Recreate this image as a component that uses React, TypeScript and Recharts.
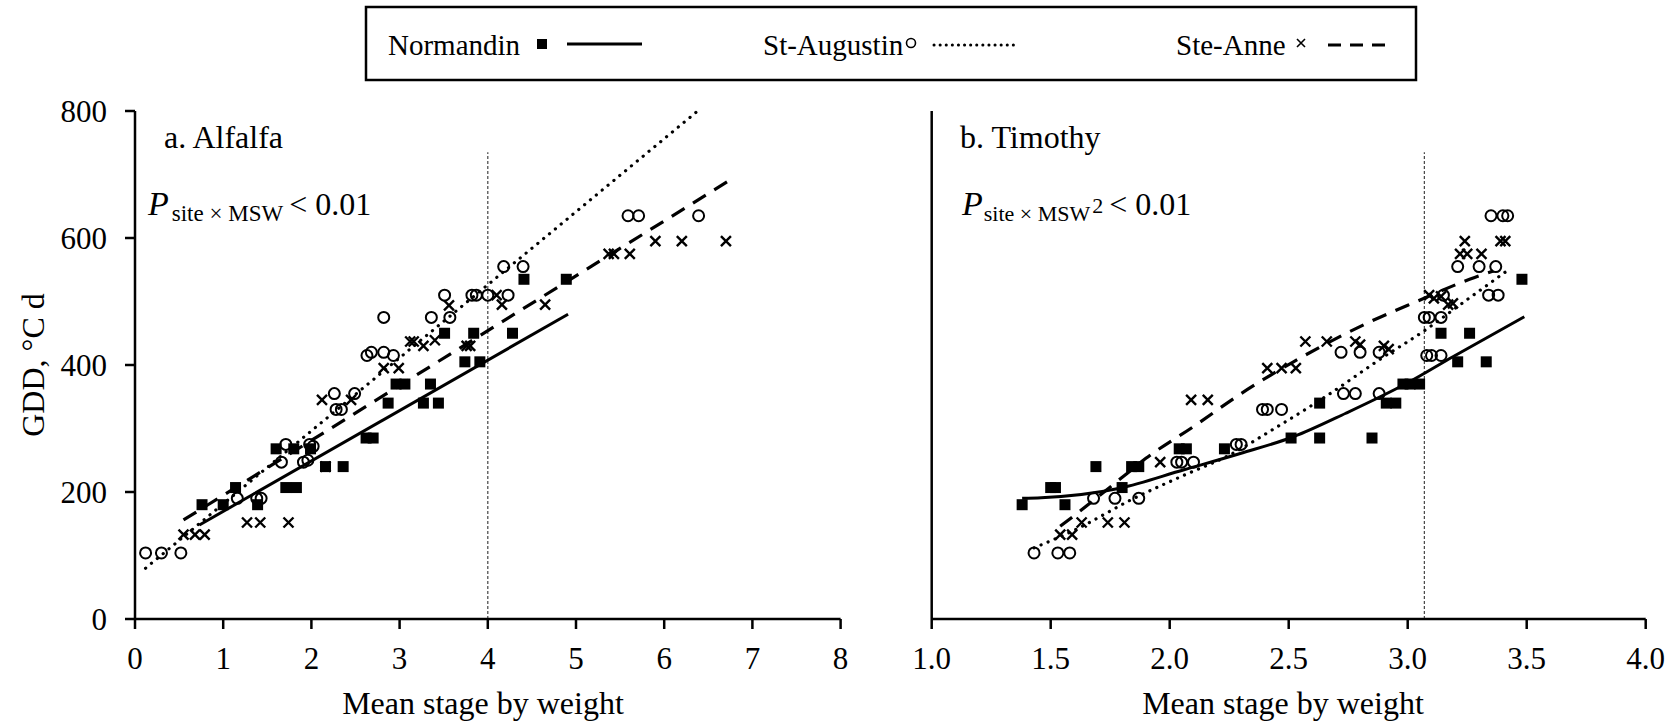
import React from "react";
import { ComposedChart, Scatter, Line, XAxis, YAxis } from "recharts";

type Pt = [number, number];

const FONT = "'Liberation Serif', 'Times New Roman', serif";

// shared y axis (GDD, °C d)
const GDD_TICKS = [0, 200, 400, 600, 800];

// a. Alfalfa: [mean stage by weight, GDD]
const ALF_X_TICKS = [0, 1, 2, 3, 4, 5, 6, 7, 8];
const ALF_NORMANDIN: Pt[] = [
  [0.76, 180], [1.0, 180], [1.14, 207], [1.39, 180], [1.6, 268], [1.8, 268], [1.71, 207],
  [1.83, 207], [1.99, 268], [2.16, 240], [2.36, 240], [2.62, 285], [2.7, 285], [2.87, 340],
  [2.96, 370], [3.06, 370], [3.27, 340], [3.44, 340], [3.35, 370], [3.51, 450], [3.74, 405],
  [3.84, 450], [3.91, 405], [4.28, 450], [4.41, 535], [4.89, 535],
];
const ALF_STAUGUSTIN: Pt[] = [
  [0.12, 104], [0.3, 104], [0.52, 104], [1.16, 190], [1.38, 190], [1.43, 190], [1.66, 247],
  [1.71, 275], [1.91, 247], [1.96, 250], [1.98, 275], [2.02, 272], [2.26, 355], [2.28, 330],
  [2.34, 330], [2.49, 355], [2.63, 415], [2.68, 420], [2.82, 420], [2.93, 415], [2.82, 475],
  [3.36, 475], [3.57, 475], [3.51, 510], [3.82, 510], [3.87, 510], [4.0, 510], [4.23, 510],
  [4.18, 555], [4.4, 555], [5.59, 635], [5.71, 635], [6.39, 635],
];
const ALF_STEANNE: Pt[] = [
  [0.55, 133], [0.68, 133], [0.79, 133], [1.27, 152], [1.42, 152], [1.74, 152], [2.16, 240],
  [2.12, 345], [2.45, 345], [2.82, 395], [2.99, 395], [3.12, 437], [3.16, 437], [3.27, 430],
  [3.4, 439], [3.56, 494], [3.76, 430], [3.8, 430], [4.1, 510], [4.16, 495], [4.65, 495],
  [5.37, 575], [5.43, 575], [5.61, 575], [5.9, 595], [6.2, 595], [6.7, 595],
];
// fitted lines, read at their end points
const ALF_FIT_NORMANDIN: Pt[] = [[0.73, 148], [4.91, 480]];
const ALF_FIT_STAUGUSTIN: Pt[] = [[0.12, 80], [6.38, 800]];
const ALF_FIT_STEANNE: Pt[] = [[0.55, 156], [6.72, 689]];
const ALF_STAGE_LIMIT: Pt[] = [[4, 0], [4, 735]];

// b. Timothy
const TIM_X_TICKS = [1, 1.5, 2, 2.5, 3, 3.5, 4];
const TIM_NORMANDIN: Pt[] = [
  [1.38, 180], [1.5, 207], [1.52, 207], [1.56, 180], [1.69, 240], [1.8, 207], [1.84, 240],
  [1.87, 240], [2.04, 268], [2.07, 268], [2.23, 268], [2.51, 285], [2.63, 285], [2.85, 285],
  [2.63, 340], [2.91, 340], [2.95, 340], [2.98, 370], [3.01, 370], [3.05, 370], [3.14, 450],
  [3.26, 450], [3.21, 405], [3.33, 405], [3.48, 535],
];
const TIM_STAUGUSTIN: Pt[] = [
  [1.43, 104], [1.53, 104], [1.58, 104], [1.68, 190], [1.77, 190], [1.87, 190], [2.03, 247],
  [2.05, 247], [2.1, 247], [2.28, 275], [2.3, 275], [2.39, 330], [2.41, 330], [2.47, 330],
  [2.73, 355], [2.78, 355], [2.88, 355], [2.72, 420], [2.8, 420], [2.88, 420], [3.07, 475],
  [3.09, 475], [3.14, 475], [3.08, 415], [3.1, 415], [3.14, 415], [3.15, 510], [3.21, 555],
  [3.3, 555], [3.37, 555], [3.34, 510], [3.38, 510], [3.35, 635], [3.4, 635], [3.42, 635],
];
const TIM_STEANNE: Pt[] = [
  [1.54, 133], [1.59, 133], [1.63, 152], [1.74, 152], [1.81, 152], [1.96, 247], [2.09, 345],
  [2.16, 345], [2.41, 395], [2.47, 395], [2.53, 395], [2.57, 437], [2.66, 437], [2.78, 437],
  [2.8, 432], [2.9, 430], [2.92, 425], [3.09, 510], [3.11, 505], [3.14, 508], [3.17, 495],
  [3.19, 497], [3.22, 575], [3.25, 575], [3.31, 575], [3.24, 595], [3.39, 595], [3.41, 595],
];
const TIM_FIT_NORMANDIN: Pt[] = [
  [1.38, 190], [1.46, 191], [1.79, 206], [2.06, 235], [2.3, 261], [2.52, 287], [2.74, 324],
  [3.0, 372], [3.19, 413], [3.49, 476],
];
const TIM_FIT_STAUGUSTIN: Pt[] = [
  [1.43, 112], [1.6, 140], [1.85, 190], [2.07, 228], [2.24, 256], [2.44, 300], [2.67, 354],
  [2.88, 408], [3.07, 454], [3.25, 503], [3.42, 549],
];
const TIM_FIT_STEANNE: Pt[] = [
  [1.54, 146], [1.62, 169], [1.81, 226], [1.9, 253], [2.1, 303], [2.3, 355], [2.52, 405],
  [2.83, 466], [3.05, 502], [3.26, 535], [3.36, 548],
];
const TIM_STAGE_LIMIT: Pt[] = [[3.07, 0], [3.07, 735]];

const rows = (pts: Pt[]) => pts.map(([x, y]) => ({ x, y }));

const Square = (p: any) => <rect x={p.cx - 5.5} y={p.cy - 5.5} width={11} height={11} fill="#000" />;
const Ring = (p: any) => <circle cx={p.cx} cy={p.cy} r={5.5} fill="none" stroke="#000" strokeWidth={2} />;
const Cross = (p: any) => (
  <path
    d={`M${p.cx - 5},${p.cy - 5}L${p.cx + 5},${p.cy + 5}M${p.cx - 5},${p.cy + 5}L${p.cx + 5},${p.cy - 5}`}
    stroke="#000"
    strokeWidth={2.4}
  />
);

const AXIS_LINE = { stroke: "#000", strokeWidth: 2.5 };
const TICK_LINE = { stroke: "#000", strokeWidth: 2.5 };
const TICK_STYLE = { fill: "#000", fontSize: 31, fontFamily: FONT };

interface PanelProps {
  left: number;
  width: number;
  yAxisWidth: number;
  marginRight: number;
  xDomain: [number, number];
  xTicks: number[];
  showYLabels: boolean;
  decimals: number;
  curve: "linear" | "monotone";
  normandin: Pt[];
  staugustin: Pt[];
  steanne: Pt[];
  fitN: Pt[];
  fitA: Pt[];
  fitS: Pt[];
  limit: Pt[];
}

const Panel = (p: PanelProps) => (
  <div style={{ position: "absolute", left: p.left, top: 0 }}>
    <ComposedChart width={p.width} height={725} margin={{ top: 111, right: p.marginRight, bottom: 0, left: 0 }}>
      <XAxis
        type="number"
        dataKey="x"
        domain={p.xDomain}
        ticks={p.xTicks}
        height={106}
        axisLine={AXIS_LINE}
        tickLine={TICK_LINE}
        tickSize={10}
        tickMargin={18}
        tick={TICK_STYLE}
        tickFormatter={(v: number) => v.toFixed(p.decimals)}
        interval={0}
      />
      <YAxis
        type="number"
        dataKey="y"
        domain={[0, 800]}
        ticks={GDD_TICKS}
        width={p.yAxisWidth}
        axisLine={AXIS_LINE}
        tickLine={TICK_LINE}
        tickSize={10}
        tickMargin={18}
        tick={p.showYLabels ? TICK_STYLE : false}
        interval={0}
      />
      <Line data={rows(p.limit)} dataKey="y" stroke="#444" strokeWidth={1.2} strokeDasharray="3 2" dot={false} activeDot={false} isAnimationActive={false} />
      <Line data={rows(p.fitN)} dataKey="y" type={p.curve} stroke="#000" strokeWidth={3} dot={false} activeDot={false} isAnimationActive={false} />
      <Line data={rows(p.fitA)} dataKey="y" type={p.curve} stroke="#000" strokeWidth={3.2} strokeDasharray="0.1 7.5" strokeLinecap="round" dot={false} activeDot={false} isAnimationActive={false} />
      <Line data={rows(p.fitS)} dataKey="y" type={p.curve} stroke="#000" strokeWidth={3.2} strokeDasharray="15 10" dot={false} activeDot={false} isAnimationActive={false} />
      <Scatter data={rows(p.normandin)} shape={Square} isAnimationActive={false} />
      <Scatter data={rows(p.staugustin)} shape={Ring} isAnimationActive={false} />
      <Scatter data={rows(p.steanne)} shape={Cross} isAnimationActive={false} />
    </ComposedChart>
  </div>
);

const Overlay = () => (
  <svg width={1679} height={725} style={{ position: "absolute", left: 0, top: 0, pointerEvents: "none" }} fontFamily={FONT} fill="#000">
    {/* legend */}
    <rect x={366} y={7} width={1050} height={73} fill="none" stroke="#000" strokeWidth={2.5} />
    <text x={388} y={55} fontSize={29}>Normandin</text>
    <rect x={537} y={39} width={10} height={10} fill="#000" />
    <line x1={567} y1={44} x2={642} y2={44} stroke="#000" strokeWidth={3} />
    <text x={763} y={55} fontSize={29}>St-Augustin</text>
    <circle cx={911} cy={43} r={4.5} fill="none" stroke="#000" strokeWidth={1.6} />
    <line x1={934} y1={45} x2={1017} y2={45} stroke="#000" strokeWidth={3} strokeDasharray="0.1 6" strokeLinecap="round" />
    <text x={1176} y={55} fontSize={29}>Ste-Anne</text>
    <path d="M1297,39L1305,47M1297,47L1305,39" stroke="#000" strokeWidth={1.6} />
    <line x1={1328} y1={45} x2={1389} y2={45} stroke="#000" strokeWidth={3} strokeDasharray="13 9" />

    {/* panel titles */}
    <text x={164} y={148} fontSize={32}>a. Alfalfa</text>
    <text x={148} y={215} fontSize={32}>
      <tspan fontStyle="italic" fontSize={34}>P</tspan>
      <tspan fontSize={23} dx={3} dy={6}>site × MSW</tspan>
      <tspan dx={6} dy={-6}>&lt; 0.01</tspan>
    </text>
    <text x={960} y={148} fontSize={32}>b. Timothy</text>
    <text x={962} y={215} fontSize={32}>
      <tspan fontStyle="italic" fontSize={34}>P</tspan>
      <tspan fontSize={22} dx={1} dy={6}>site × MSW</tspan>
      <tspan fontSize={22} dx={2} dy={-8}>2</tspan>
      <tspan dx={6} dy={2}>&lt; 0.01</tspan>
    </text>

    {/* axis titles */}
    <text x={44} y={365} fontSize={32} textAnchor="middle" transform="rotate(-90 44 365)">GDD, °C d</text>
    <text x={483} y={714} fontSize={32} textAnchor="middle">Mean stage by weight</text>
    <text x={1283} y={714} fontSize={32} textAnchor="middle">Mean stage by weight</text>
  </svg>
);

export default function App() {
  return (
    <div style={{ position: "absolute", left: 0, top: 0, width: 1679, height: 725, background: "#fff", fontFamily: FONT }}>
      <Panel
        left={0}
        width={880}
        yAxisWidth={135}
        marginRight={39.4}
        xDomain={[0, 8]}
        xTicks={ALF_X_TICKS}
        showYLabels
        decimals={0}
        curve="linear"
        normandin={ALF_NORMANDIN}
        staugustin={ALF_STAUGUSTIN}
        steanne={ALF_STEANNE}
        fitN={ALF_FIT_NORMANDIN}
        fitA={ALF_FIT_STAUGUSTIN}
        fitS={ALF_FIT_STEANNE}
        limit={ALF_STAGE_LIMIT}
      />
      <Panel
        left={880}
        width={799}
        yAxisWidth={51.7}
        marginRight={33.3}
        xDomain={[1, 4]}
        xTicks={TIM_X_TICKS}
        showYLabels={false}
        decimals={1}
        curve="monotone"
        normandin={TIM_NORMANDIN}
        staugustin={TIM_STAUGUSTIN}
        steanne={TIM_STEANNE}
        fitN={TIM_FIT_NORMANDIN}
        fitA={TIM_FIT_STAUGUSTIN}
        fitS={TIM_FIT_STEANNE}
        limit={TIM_STAGE_LIMIT}
      />
      <Overlay />
    </div>
  );
}
